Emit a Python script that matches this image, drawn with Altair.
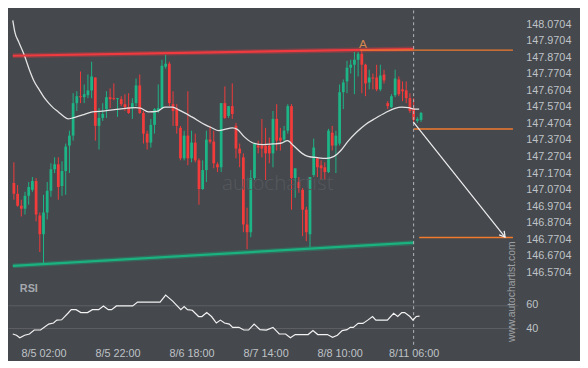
import math
import altair as alt
import pandas as pd

# ---------------- data ----------------
candle_open = [147.111, 147.046, 146.974, 146.956, 147.034, 147.070, 147.123, 146.915, 146.802, 146.933,
               147.064, 147.194, 147.224, 147.093, 147.183, 147.337, 147.397, 147.593, 147.635, 147.629,
               147.641, 147.670, 147.748, 147.456, 147.504, 147.557, 147.629, 147.623, 147.617, 147.617,
               147.587, 147.569, 147.563, 147.593, 147.700, 147.534, 147.409, 147.355, 147.462, 147.546,
               147.563, 147.813, 147.831, 147.587, 147.563, 147.444, 147.260, 147.397, 147.260, 147.355,
               147.248, 147.075, 147.189, 147.373, 147.361, 147.224, 147.206, 147.593, 147.516, 147.575,
               147.456, 147.319, 147.266, 146.861, 146.814, 147.141, 147.337, 147.337, 147.337, 147.337,
               147.290, 147.498, 147.385, 147.373, 147.427, 147.575, 147.141, 147.117, 147.070, 146.950,
               146.802, 147.159, 147.260, 147.218, 147.206, 147.177, 147.415, 147.337, 147.349, 147.659,
               147.724, 147.807, 147.825, 147.855, 147.891, 147.825, 147.718, 147.748, 147.748, 147.676,
               147.766, 147.593, 147.569, 147.641, 147.736, 147.676, 147.670, 147.623, 147.563, 147.486,
               147.492]
candle_high = [147.236, 147.099, 147.010, 147.058, 147.117, 147.147, 147.141, 146.933, 147.040, 147.117,
               147.230, 147.266, 147.266, 147.242, 147.349, 147.427, 147.653, 147.665, 147.784, 147.706,
               147.766, 147.843, 147.748, 147.563, 147.593, 147.665, 147.682, 147.712, 147.623, 147.635,
               147.647, 147.653, 147.623, 147.742, 147.766, 147.546, 147.427, 147.498, 147.563, 147.706,
               147.855, 147.885, 147.843, 147.665, 147.587, 147.456, 147.427, 147.665, 147.427, 147.409,
               147.260, 147.248, 147.427, 147.456, 147.427, 147.236, 147.593, 147.694, 147.575, 147.712,
               147.474, 147.349, 147.290, 146.962, 147.189, 147.355, 147.367, 147.498, 147.444, 147.385,
               147.546, 147.587, 147.444, 147.456, 147.587, 147.587, 147.171, 147.147, 147.081, 146.968,
               147.147, 147.379, 147.266, 147.248, 147.236, 147.438, 147.456, 147.427, 147.706, 147.736,
               147.849, 147.855, 147.902, 147.902, 147.908, 147.831, 147.795, 147.772, 147.825, 147.825,
               147.795, 147.605, 147.647, 147.795, 147.754, 147.724, 147.724, 147.653, 147.623, 147.510,
               147.540]
candle_low = [147.010, 146.968, 146.909, 146.921, 146.980, 147.058, 146.879, 146.695, 146.623, 146.891,
              147.028, 147.171, 147.010, 147.034, 147.040, 147.171, 147.367, 147.546, 147.593, 147.593,
              147.623, 147.623, 147.367, 147.313, 147.486, 147.504, 147.563, 147.611, 147.510, 147.575,
              147.546, 147.528, 147.498, 147.575, 147.528, 147.349, 147.313, 147.325, 147.409, 147.534,
              147.557, 147.801, 147.575, 147.456, 147.409, 147.248, 147.248, 147.218, 147.236, 147.236,
              146.980, 147.070, 147.117, 147.349, 147.200, 147.177, 147.177, 147.498, 147.504, 147.498,
              147.260, 147.206, 146.814, 146.712, 146.784, 147.129, 147.290, 147.266, 147.129, 147.230,
              147.206, 147.307, 147.307, 147.355, 147.409, 146.950, 147.022, 147.052, 146.790, 146.760,
              146.724, 147.147, 147.147, 147.129, 147.129, 147.171, 147.307, 147.171, 147.337, 147.557,
              147.653, 147.772, 147.647, 147.754, 147.653, 147.635, 147.676, 147.676, 147.665, 147.665,
              147.712, 147.557, 147.563, 147.629, 147.635, 147.605, 147.593, 147.534, 147.480, 147.474,
              147.480]
candle_close = [147.046, 146.974, 146.956, 147.034, 147.087, 147.123, 146.921, 146.802, 146.933, 147.064,
                147.194, 147.224, 147.087, 147.183, 147.331, 147.397, 147.593, 147.635, 147.629, 147.647,
                147.670, 147.754, 147.456, 147.504, 147.528, 147.629, 147.617, 147.617, 147.623, 147.587,
                147.569, 147.534, 147.593, 147.700, 147.534, 147.409, 147.355, 147.462, 147.557, 147.563,
                147.819, 147.831, 147.593, 147.546, 147.456, 147.260, 147.397, 147.260, 147.355, 147.248,
                147.075, 147.189, 147.373, 147.361, 147.230, 147.206, 147.593, 147.504, 147.575, 147.528,
                147.319, 147.290, 146.861, 146.814, 147.141, 147.349, 147.325, 147.319, 147.290, 147.290,
                147.498, 147.367, 147.367, 147.427, 147.575, 147.141, 147.200, 147.081, 146.950, 146.814,
                147.147, 147.325, 147.206, 147.200, 147.177, 147.427, 147.337, 147.397, 147.659, 147.718,
                147.807, 147.825, 147.855, 147.891, 147.825, 147.712, 147.748, 147.742, 147.676, 147.760,
                147.730, 147.575, 147.635, 147.742, 147.647, 147.665, 147.623, 147.546, 147.492, 147.498,
                147.534]

ma_idx = [-0.3, 0.26, 1.31, 2.87, 4.18, 5.49, 6.79, 8.10, 9.41, 10.71, 12.02, 13.33, 14.63, 15.94,
          18.55, 21.17, 24.56, 28.48, 32.92, 34.23, 36.32, 38.67, 40.76, 42.85, 44.68, 48.08, 51.74,
          53.31, 55.40, 56.96, 59.05, 60.36, 62.19, 64.80, 67.42, 70.03, 72.12, 73.95, 75.52, 77.87,
          79.44, 82.05, 84.40, 86.49, 88.32, 90.41, 92.50, 95.11, 97.73, 100.34, 102.95, 104.78,
          106.61, 108.18, 109.49]
ma_val = [148.093, 148.022, 147.962, 147.879, 147.795, 147.724, 147.676, 147.629, 147.593, 147.563,
          147.540, 147.516, 147.498, 147.504, 147.522, 147.540, 147.546, 147.557, 147.566, 147.563,
          147.540, 147.543, 147.569, 147.569, 147.551, 147.510, 147.462, 147.446, 147.427, 147.435,
          147.444, 147.435, 147.391, 147.351, 147.343, 147.347, 147.351, 147.367, 147.337, 147.290,
          147.272, 147.264, 147.260, 147.272, 147.307, 147.367, 147.416, 147.466, 147.502, 147.535,
          147.562, 147.569, 147.566, 147.557, 147.557]

rsi_idx = [-0.3, 0.7, 1.6, 2.9, 4.2, 5.5, 7.2, 9.4, 10.7, 11.6, 12.9, 14.6, 15.5, 16.8, 18.1,
           19.9, 21.2, 22.9, 24.2, 25.5, 26.4, 27.7, 32.1, 33.4, 39.5, 41.0, 42.9, 45.1, 46.0, 46.9,
           48.2, 49.9, 50.8, 52.1, 53.4, 54.7, 55.8, 56.9, 58.2, 59.1, 60.8, 62.1, 63.4, 64.9, 66.5,
           68.2, 70.0, 71.7, 73.4, 74.7, 76.0, 79.5, 80.8, 82.1, 84.7, 86.1, 87.4, 88.7, 90.0, 90.9,
           91.7, 93.0, 94.3, 95.6, 96.9, 97.8, 100.9, 102.6, 103.7, 104.8, 105.6, 107.0, 107.8, 108.7,
           109.6]
rsi_val = [35.1, 34.0, 31.8, 34.0, 35.1, 38.5, 38.5, 43.6, 44.5, 47.0, 47.3, 52.9, 56.0, 56.0, 53.5,
           53.5, 56.0, 56.0, 59.2, 56.0, 56.0, 59.2, 59.2, 62.5, 62.5, 68.5, 63.4, 56.0, 58.6, 56.0,
           55.5, 50.1, 50.1, 53.5, 50.1, 44.5, 47.0, 44.5, 43.6, 40.8, 40.8, 38.5, 38.5, 43.6, 38.8,
           38.5, 40.8, 35.1, 35.1, 31.8, 34.6, 34.6, 38.0, 34.6, 34.6, 32.3, 34.0, 38.0, 38.8, 40.8,
           40.8, 44.2, 44.2, 47.0, 50.1, 47.0, 47.0, 52.9, 50.1, 53.5, 53.5, 50.1, 47.0, 50.1, 50.4]

price_ticks = [148.1704, 148.0704, 147.9704, 147.8704, 147.7704, 147.6704, 147.5704, 147.4704,
               147.3704, 147.2704, 147.1704, 147.0704, 146.9704, 146.8704, 146.7704, 146.6704, 146.5704]
rsi_ticks = [40, 60]
date_tick_idx = [8, 28, 48, 68, 88, 108]
date_tick_lbl = ["8/5 02:00", "8/5 22:00", "8/6 18:00", "8/7 14:00", "8/8 10:00", "8/11 06:00"]

resistance_idx = [-0.3, 108]
resistance_val = [147.879, 147.920]
support_idx = [-0.3, 108]
support_val = [146.611, 146.751]
level_start = [93.5, 108.0, 109.5]
level_end = [134.83, 134.83, 134.83]
level_val = [147.913, 147.437, 146.782]
arrow_idx = [107.9, 132.7]
arrow_val = [147.480, 146.785]
signal_idx = [108]
pivot_idx, pivot_val, pivot_lbl = [94.3], [147.950], ["A"]

# ---------------- layout ----------------
W, H = 517, 337
X_DOM = [-0.26, 134.83]
P_DOM = [146.1468, 148.1526]
R_DOM = [27.54, 313.14]
BG = "#45484d"
FONT = "Liberation Sans"
LBL = "#bfc2c6"
RED = "#f23b3b"
GREEN = "#1db585"
ORANGE = "#f07a2e"

xs = alt.Scale(domain=X_DOM, nice=False, zero=False)
ps = alt.Scale(domain=P_DOM, nice=False, zero=False)
rs = alt.Scale(domain=R_DOM, nice=False, zero=False)

expr = "''"
for v, l in reversed(list(zip(date_tick_idx, date_tick_lbl))):
    expr = f"datum.value == {v} ? '{l}' : " + expr

X_AX = alt.Axis(values=date_tick_idx, labelExpr=expr, ticks=False, domain=False, grid=False,
                labelColor=LBL, labelFontSize=11, labelFont=FONT, labelPadding=5,
                labelOverlap=False, labelFlush=False, title=None)
P_AX = alt.Axis(orient="right", values=price_ticks, format=".4f", ticks=False, domain=False,
                grid=False, labelColor=LBL, labelFontSize=11, labelFont=FONT, labelPadding=8,
                labelOverlap=False, labelFlush=False, title=None)
R_AX = alt.Axis(orient="right", values=rsi_ticks, format="d", ticks=False, domain=False,
                grid=True, gridColor="#5d6065", gridWidth=1, labelColor=LBL, labelFontSize=11,
                labelFont=FONT, labelPadding=8, labelOverlap=False, labelFlush=False, title=None)


def X(f):
    return alt.X(f"{f}:Q", scale=xs, axis=X_AX)


def PY(f):
    return alt.Y(f"{f}:Q", scale=ps, axis=P_AX)


def RY(f):
    return alt.Y(f"{f}:Q", scale=rs, axis=R_AX)


cdf = pd.DataFrame({"k": list(range(len(candle_open))), "o": candle_open, "h": candle_high,
                    "l": candle_low, "c": candle_close})
cdf["col"] = [GREEN if c >= o else RED for o, c in zip(candle_open, candle_close)]

wicks = alt.Chart(cdf).mark_rule(strokeWidth=1).encode(
    x=X("k"), y=PY("l"), y2="h:Q", color=alt.Color("col:N", scale=None))
bodies = alt.Chart(cdf).mark_bar(size=2.8).encode(
    x=X("k"), y=PY("o"), y2="c:Q", color=alt.Color("col:N", scale=None))

res_df = pd.DataFrame({"k": resistance_idx, "v": resistance_val})
sup_df = pd.DataFrame({"k": support_idx, "v": support_val})
res_glow = alt.Chart(res_df).mark_line(color="#e23a3e", strokeWidth=5, opacity=0.35).encode(x=X("k"), y=PY("v"))
res_line = alt.Chart(res_df).mark_line(color="#ef3b3f", strokeWidth=2.2).encode(x=X("k"), y=PY("v"))
sup_glow = alt.Chart(sup_df).mark_line(color="#16a977", strokeWidth=5, opacity=0.35).encode(x=X("k"), y=PY("v"))
sup_line = alt.Chart(sup_df).mark_line(color="#1bb27f", strokeWidth=2.2).encode(x=X("k"), y=PY("v"))

ma = alt.Chart(pd.DataFrame({"k": ma_idx, "v": ma_val})).mark_line(
    color="#e4e4e4", strokeWidth=1.3, interpolate="monotone").encode(x=X("k"), y=PY("v"))

lv_df = pd.DataFrame({"k": level_start, "k2": level_end, "v": level_val})
levels = alt.Chart(lv_df).mark_rule(color=ORANGE, strokeWidth=1.5).encode(
    x=X("k"), x2="k2:Q", y=PY("v"))

signal = alt.Chart(pd.DataFrame({"k": signal_idx})).mark_rule(
    color="#b4b7bb", strokeWidth=1, strokeDash=[3, 3]).encode(
    x=X("k"), y=alt.value(0), y2=alt.value(342))

ar_df = pd.DataFrame({"k": arrow_idx, "v": arrow_val})
arrow_line = alt.Chart(ar_df).mark_line(color="#f0f0f0", strokeWidth=1.2).encode(x=X("k"), y=PY("v"))
px_k = W / (X_DOM[1] - X_DOM[0])
px_p = H / (P_DOM[1] - P_DOM[0])
dx = (arrow_idx[1] - arrow_idx[0]) * px_k
dy = (arrow_val[0] - arrow_val[1]) * px_p
ang = math.degrees(math.atan2(dx, -dy)) % 360
head_df = pd.DataFrame({"k": [arrow_idx[1]], "v": [arrow_val[1]]})
arrow_head = alt.Chart(head_df).mark_point(
    shape="M -0.6 1 L 0 0 L 0.6 1", filled=False, size=120, strokeWidth=1.3,
    color="#f0f0f0", opacity=1, angle=ang).encode(x=X("k"), y=PY("v"))

pivot = alt.Chart(pd.DataFrame({"k": pivot_idx, "v": pivot_val, "t": pivot_lbl})).mark_text(
    color="#d4874f", fontSize=12, font=FONT, baseline="middle").encode(x=X("k"), y=PY("v"), text="t:N")

watermark = alt.Chart(pd.DataFrame({"k": [71.3], "v": [147.105], "t": ["autochartist"]})).mark_text(
    color="#55585d", fontSize=21, font="Open Sans", fontWeight=300, baseline="middle").encode(
    x=X("k"), y=PY("v"), text="t:N")

site = alt.Chart(pd.DataFrame({"k": [134.7], "v": [146.455], "t": ["www.autochartist.com"]})).mark_text(
    color="#9da0a4", fontSize=10.5, font=FONT, angle=270, baseline="middle", align="center").encode(
    x=X("k"), y=PY("v"), text="t:N")

price_group = alt.layer(res_glow, sup_glow, wicks, bodies, ma, res_line, sup_line, levels,
                        signal, arrow_line, arrow_head, pivot, watermark, site)

rsi_line = alt.Chart(pd.DataFrame({"k": rsi_idx, "v": rsi_val})).mark_line(
    color="#f2f2f2", strokeWidth=1.2).encode(x=X("k"), y=RY("v"))
rsi_title = alt.Chart(pd.DataFrame({"k": [1.6], "v": [73.3], "t": ["RSI"]})).mark_text(
    color="#a6a9ad", fontSize=11, font=FONT, fontWeight="bold", align="left", baseline="middle").encode(
    x=X("k"), y=RY("v"), text="t:N")
rsi_group = alt.layer(rsi_line, rsi_title)

chart = alt.layer(price_group, rsi_group).resolve_scale(y="independent").properties(
    width=W, height=H,
    padding={"left": 0, "top": 0, "right": 63, "bottom": 16},
    autosize=alt.AutoSizeParams(type="none"),
    background=BG,
).configure_view(stroke=None)

chart.save("out.html", embed_options={"renderer": "svg", "actions": False})
